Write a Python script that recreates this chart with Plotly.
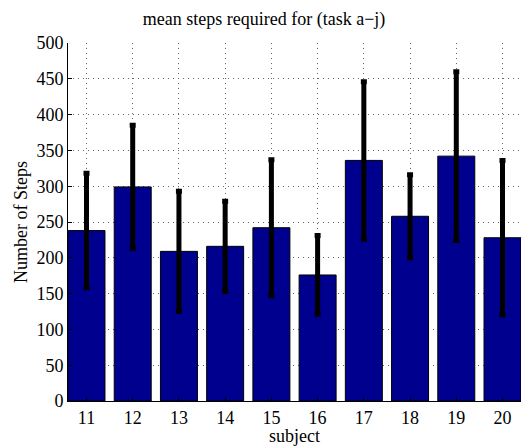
import plotly.graph_objects as go

subjects = [11, 12, 13, 14, 15, 16, 17, 18, 19, 20]
mean_steps = [238, 299, 209, 216, 242, 176, 336, 258, 342, 228]
err_steps = [80, 86, 84, 63, 95, 55, 110, 58, 118, 108]
y_ticks = [0, 50, 100, 150, 200, 250, 300, 350, 400, 450, 500]

fig = go.Figure()
fig.add_trace(go.Bar(
    x=subjects, y=mean_steps, width=0.8,
    marker=dict(color="#00008F", line=dict(color="black", width=1)),
    error_y=dict(type="data", array=err_steps, visible=True,
                 color="black", thickness=5, width=3),
))

font_family = "Liberation Serif, Times New Roman, serif"
grid_dash = "1px,4px"
fs = 18
fig.update_layout(
    width=528, height=446,
    margin=dict(l=68, r=7, t=43, b=45),
    paper_bgcolor="white", plot_bgcolor="white",
    font=dict(family=font_family, size=fs, color="black"),
    title=dict(text="mean steps required for (task a\u2212j)", x=0.5, xanchor="center",
               y=1 - 19 / 446, yanchor="middle", font=dict(size=fs)),
    showlegend=False, bargap=0.2,
)
fig.update_xaxes(
    range=[10.6, 20.4], tickmode="array", tickvals=subjects,
    ticktext=[str(s) for s in subjects],
    showgrid=True, gridcolor="#666666", griddash=grid_dash, gridwidth=1,
    showline=True, linecolor="black", linewidth=1, mirror=False,
    ticks="inside", ticklen=4, tickcolor="black",
    tickfont=dict(size=fs),
    title=dict(text="subject", standoff=0, font=dict(size=fs)),
    zeroline=False,
)
fig.update_yaxes(
    range=[0, 500], tickmode="array", tickvals=y_ticks,
    showgrid=True, gridcolor="#666666", griddash=grid_dash, gridwidth=1,
    showline=True, linecolor="black", linewidth=1, mirror=False,
    ticks="inside", ticklen=4, tickcolor="black",
    tickfont=dict(size=fs),
    title=dict(text="Number of Steps", standoff=4, font=dict(size=fs)),
    zeroline=False,
)
fig.write_html("out.html")
